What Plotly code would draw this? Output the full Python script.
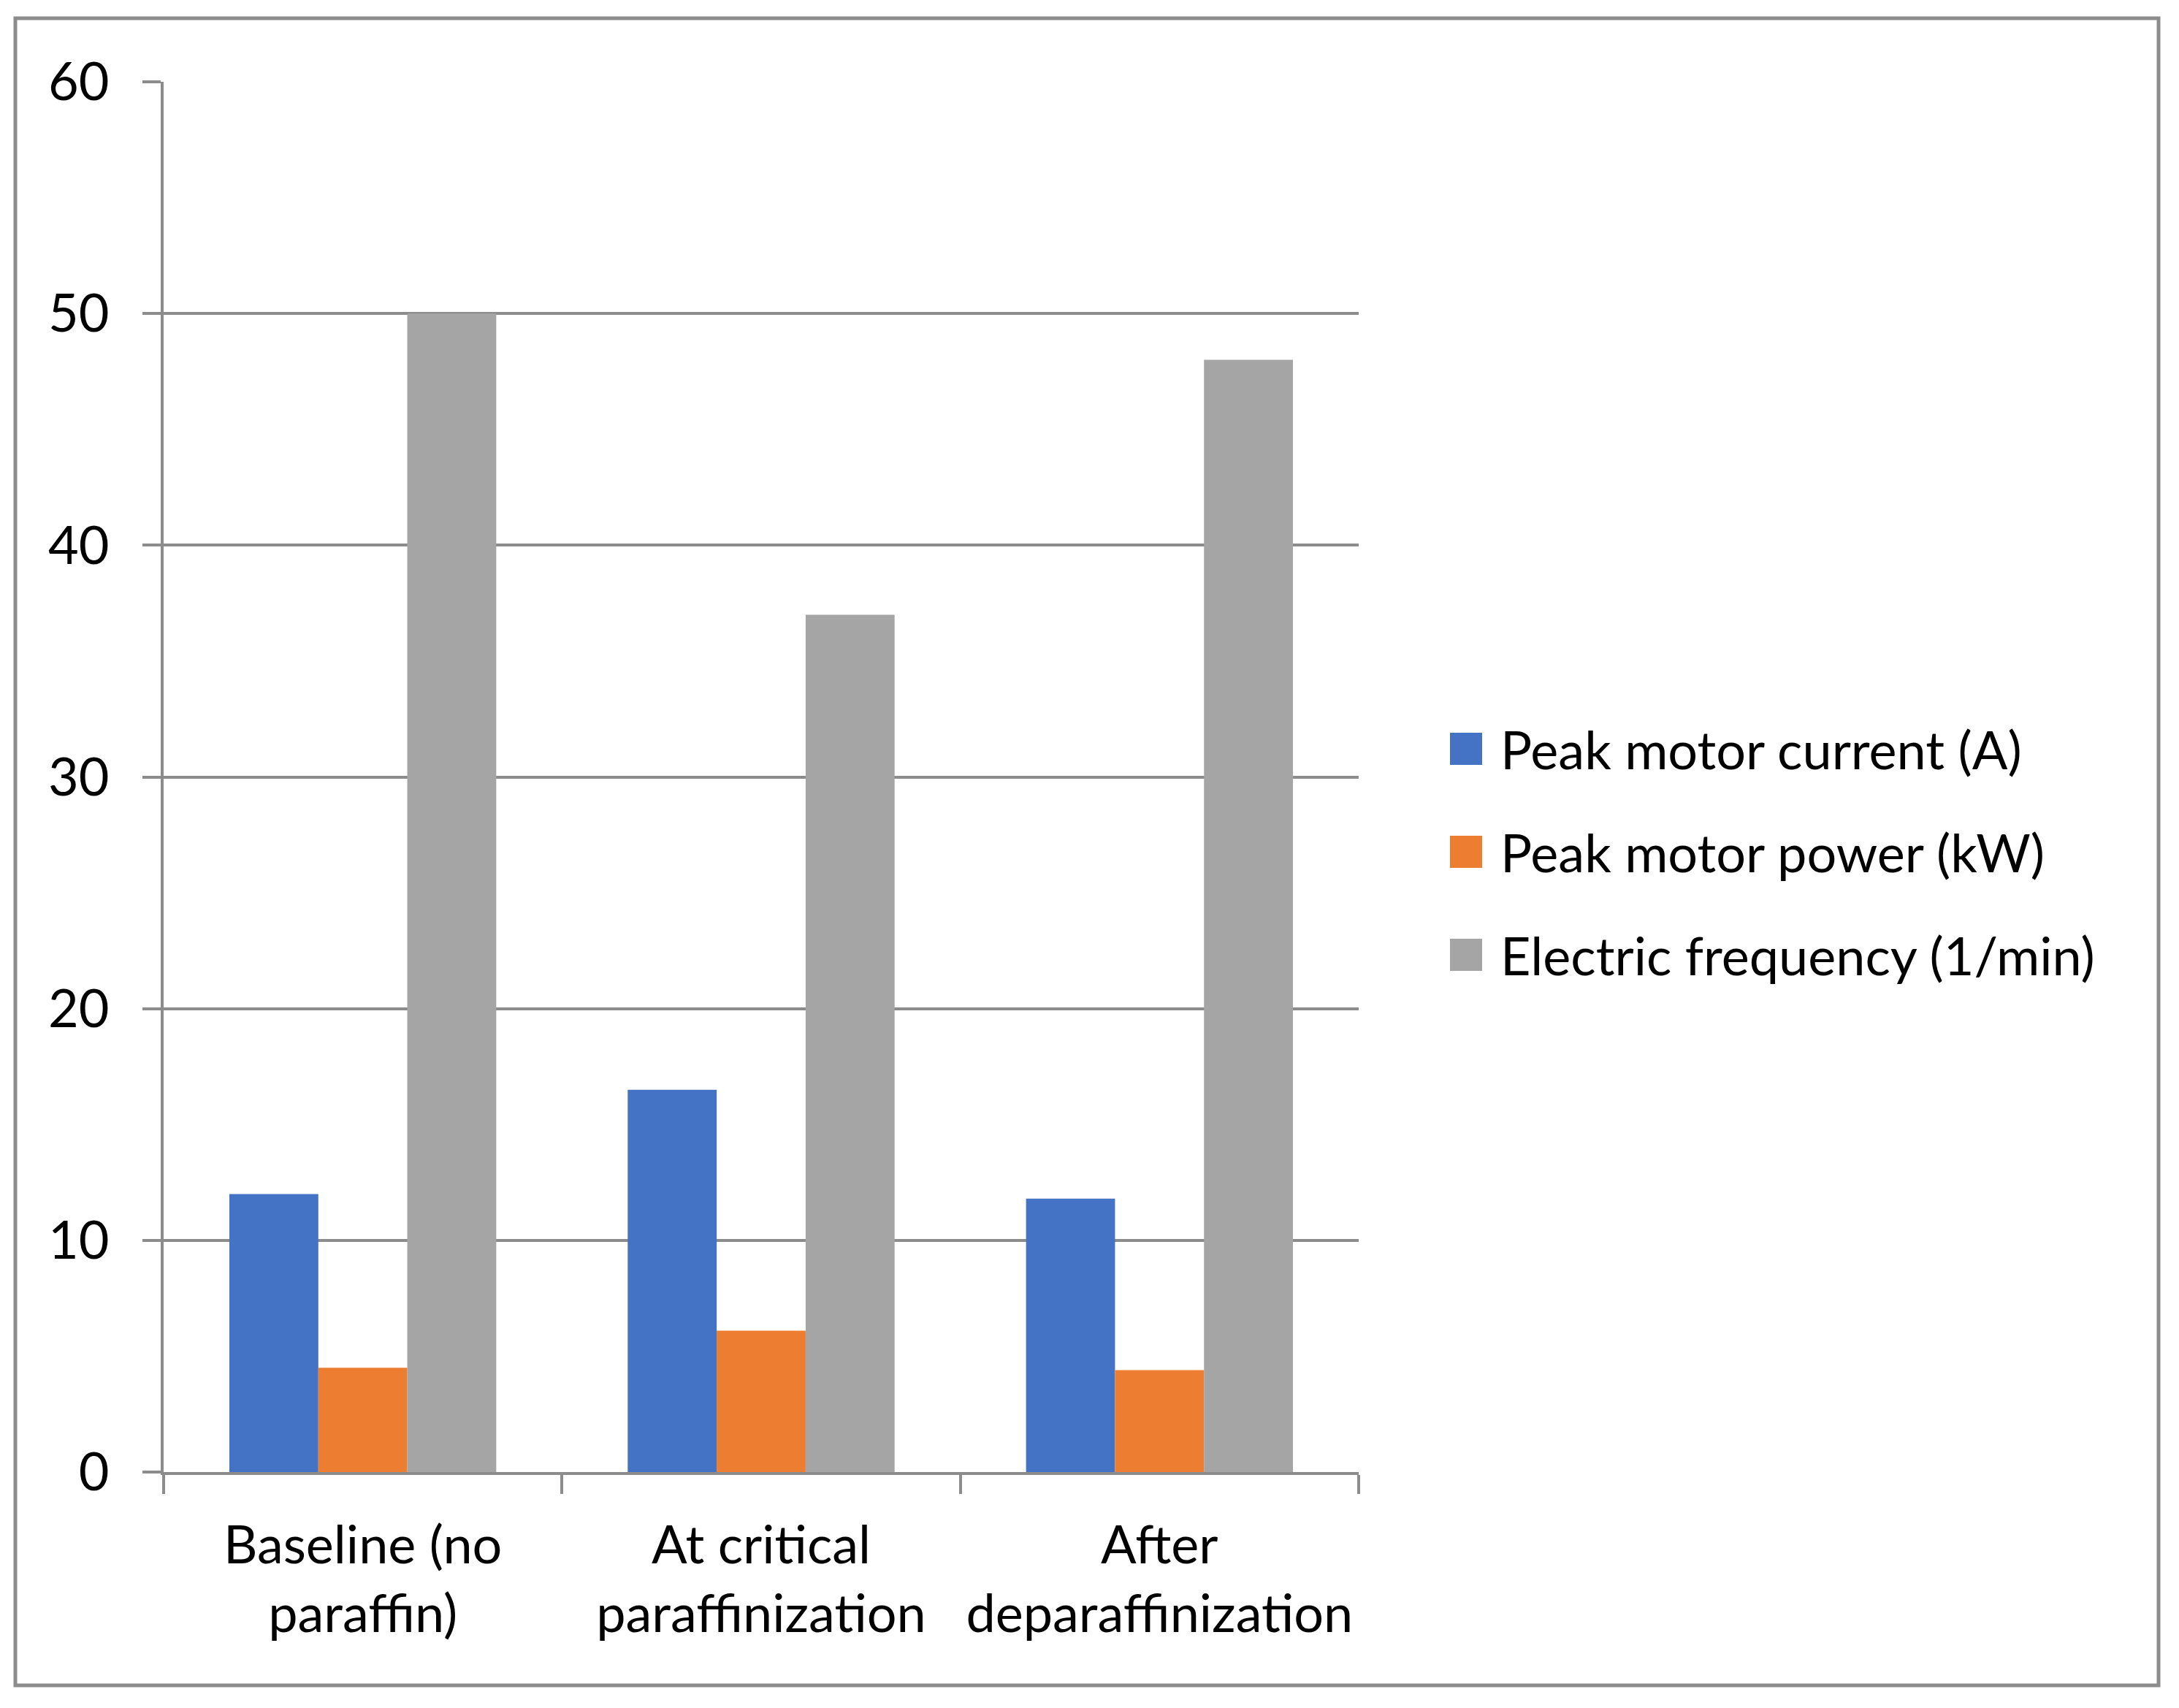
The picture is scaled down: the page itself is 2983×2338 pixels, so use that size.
import plotly.graph_objects as go

categories = ["Baseline (no<br>paraffin)", "At critical<br>paraffinization", "After<br>deparaffinization"]
series_names = ["Peak motor current (A)", "Peak motor power (kW)", "Electric frequency (1/min)"]
current_vals = [12.0, 16.5, 11.8]
power_vals = [4.5, 6.1, 4.4]
frequency_vals = [50, 37, 48]
colors = ["#4472C4", "#ED7D31", "#A5A5A5"]
y_ticks = [0, 10, 20, 30, 40, 50, 60]

# page offset of the default body margin (8px) compensated
OFF = 8
W, H = 2983 - 2 * OFF, 2338 - 2 * OFF
L, R, T, B = 224 - OFF, 1860 - OFF, 112 - OFF, 2015 - OFF
FONT = "Lato"
FS = 72
GRID = "#8C8C8C"

fig = go.Figure()
for name, vals, col in zip(series_names, [current_vals, power_vals, frequency_vals], colors):
    fig.add_trace(go.Bar(x=categories, y=vals, name=name, marker=dict(color=col, line=dict(width=0)),
                         showlegend=False))

fig.update_layout(
    width=W, height=H,
    margin=dict(l=L, r=W - R, t=T, b=H - B, autoexpand=False),
    paper_bgcolor="white", plot_bgcolor="white",
    barmode="group", bargap=0.33, bargroupgap=0,
    font=dict(family=FONT, size=FS, color="black"),
)
fig.update_yaxes(range=[0, 60], tickvals=y_ticks, showgrid=True, gridcolor=GRID, gridwidth=4,
                 showline=True, linecolor=GRID, linewidth=4, ticks="outside", ticklen=25,
                 tickwidth=4, tickcolor=GRID, zeroline=False, ticklabelstandoff=31,
                 tickfont=dict(family=FONT, size=FS, color="black"))
fig.update_xaxes(showline=True, linecolor=GRID, linewidth=4, ticks="outside", ticklen=26,
                 tickwidth=4, tickcolor=GRID, tickson="boundaries", ticklabelstandoff=35,
                 tickfont=dict(family=FONT, size=FS, color="black"))

pw, ph = R - L, B - T
def px(x): return (x - OFF - L) / pw
def py(y): return (B - (y - OFF)) / ph

# outer border (page coordinates)
fig.add_shape(type="rect", xref="paper", yref="paper", x0=px(21), x1=px(2955), y0=py(2307), y1=py(25),
              line=dict(color=GRID, width=5), fillcolor="rgba(0,0,0,0)", layer="below")

# legend (page coordinates)
legend_y = [1025, 1166, 1307]
for name, col, yy in zip(series_names, colors, legend_y):
    fig.add_shape(type="rect", xref="paper", yref="paper", x0=px(1985), x1=px(2029),
                  y0=py(yy + 22), y1=py(yy - 22), line=dict(width=0), fillcolor=col)
    fig.add_annotation(xref="paper", yref="paper", x=px(2054), y=py(yy), text=name, showarrow=False,
                       xanchor="left", yanchor="middle", xshift=-2,
                       font=dict(family=FONT, size=FS, color="black"))

fig.write_html("out.html")
